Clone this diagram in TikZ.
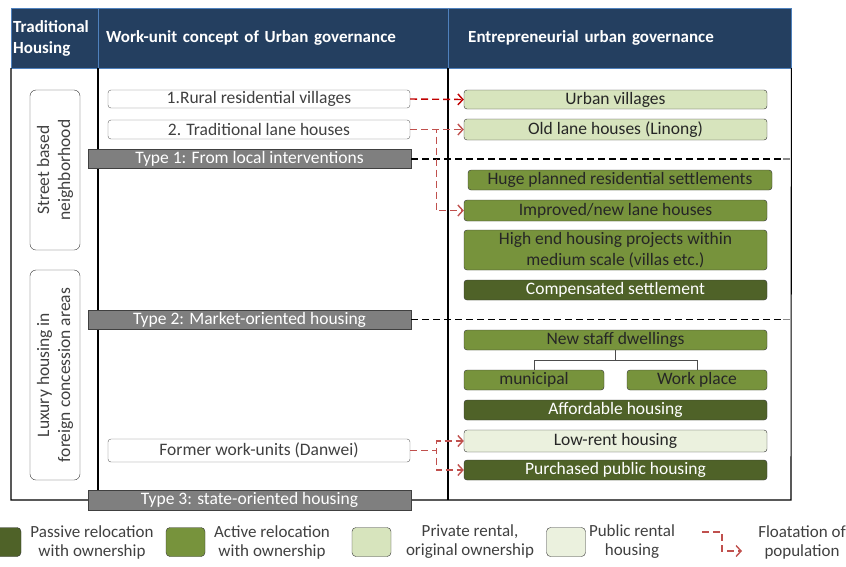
\documentclass[tikz,border=0pt]{standalone}
\usepackage{fontspec}
\setmainfont{Carlito}
\usepackage{xcolor}
\definecolor{hdnavy}{HTML}{243F60}
\definecolor{hdedge}{HTML}{4F81BD}
\definecolor{bargray}{HTML}{7F7F7F}
\definecolor{darkgr}{HTML}{4F6228}
\definecolor{midgr}{HTML}{77933C}
\definecolor{lightgr}{HTML}{D7E4BD}
\definecolor{palegr}{HTML}{EBF1DE}
\definecolor{flored}{HTML}{C0504D}
\definecolor{flostrong}{HTML}{C00000}
\usetikzlibrary{positioning,arrows.meta,calc}

\begin{document}
\begin{tikzpicture}[x=1pt, y=-1pt,
  font=\fontsize{17.5}{21}\selectfont,
  head/.style={draw=hdedge, fill=hdnavy, text=white, font=\fontsize{17}{21}\selectfont\bfseries,
               minimum height=60, align=left, anchor=west},
  side/.style={draw=black!80, rounded corners=6pt, fill=white, rotate=90, minimum height=50,
               align=center, text=black!75, inner sep=1pt},
  old/.style={draw=black!60, rounded corners=3pt, fill=white, minimum width=302, text=black!75, inner sep=0pt},
  typebar/.style={draw=black!75, fill=bargray, text=white, minimum width=323, minimum height=19, inner sep=0pt},
  newbox/.style={draw=black!80, rounded corners=3pt, minimum width=303, inner sep=0pt, align=center},
  passive/.style={newbox, fill=darkgr, text=white},
  active/.style={newbox, fill=midgr, text=black!85},
  private/.style={newbox, fill=lightgr, text=black!85},
  public/.style={newbox, fill=palegr, text=black!85},
  flo/.style={draw=flored, line width=1.4pt, dash pattern=on 7pt off 4pt,
              -{Straight Barb[length=5pt,width=11pt]}},
  sep/.style={line width=1.2pt, dash pattern=on 7pt off 4pt},
  frame/.style={line width=1.1pt},
  key/.style={draw=black!80, rounded corners=4pt, minimum width=39, minimum height=29},
  keytext/.style={text=black!75, align=center, font=\fontsize{17}{19}\selectfont},
]
  \useasboundingbox (0,0) rectangle (846,566);

  \node[head, minimum width=87, text width=83, inner xsep=2] (hdhouse) at (11,38) {Traditional\\Housing};
  \node[head, text width=334, inner xsep=8] (hdwork) at (98,38) {Work-unit concept of Urban governance};
  \node[head, text width=303, inner xsep=20] (hdentre) at (448,38) {Entrepreneurial urban governance};

  \draw[frame] (hdhouse.south west) -- (11,500) -- (791,500) -- (hdentre.south east);
  \draw[frame] (hdwork.south west) -- (98,490);
  \draw[frame] (hdentre.south west) -- (448,500);

  \node[side, minimum width=160] (street) at (55,170) {Street based\\neighborhood};
  \node[side, minimum width=210] (luxury) at (55,375) {Luxury housing in\\foreign concession areas};

  \node[old, minimum height=18] (rural) at (259,99) {1.Rural residential villages};
  \node[old, minimum height=19] (lane) at (259,129.5) {2. Traditional lane houses};
  \node[old, minimum height=23] (danwei) at (259,450.5) {Former work-units (Danwei)};

  \coordinate (end1) at (781,159);
  \coordinate (end2) at (781,319.5);
  \node[typebar] (type1) at (249.5,159) {Type 1: From local interventions};
  \node[typebar] (type2) at (249.5,319.5) {Type 2: Market-oriented housing};
  \node[typebar, minimum height=20] (type3) at (249.5,500) {Type 3: state-oriented housing};
  \draw[sep] (type1.east) -- (end1);
  \draw[sep] (type2.east) -- (end2);
  \draw[black!45, line width=1.5pt] (783,159) -- (790,159) (783,319.5) -- (790,319.5);

  \node[private, minimum height=19] (urbvil) at (615.5,99.5) {Urban villages};
  \node[private, minimum height=21] (linong) at (615.5,129.5) {Old lane houses (Linong)};
  \node[active, minimum height=20, minimum width=304] (huge) at (620,180) {Huge planned residential settlements};
  \node[active, minimum height=21] (improved) at (615.5,210.5) {Improved/new lane houses};
  \node[active, minimum height=40] (highend) at (615.5,250) {High end housing projects within\\medium scale (villas etc.)};
  \node[passive, minimum height=20] (compens) at (615.5,290) {Compensated settlement};
  \node[active, minimum height=20] (staff) at (615.5,340) {New staff dwellings};
  \node[active, minimum height=20, minimum width=140] (municipal) at (534,380) {municipal};
  \node[active, minimum height=20, minimum width=140] (workplace) at (697,380) {Work place};
  \node[passive, minimum height=20] (afford) at (615.5,410) {Affordable housing};
  \node[public, minimum height=22] (lowrent) at (615.5,441) {Low-rent housing};
  \node[passive, minimum height=20] (purchased) at (615.5,470) {Purchased public housing};

  \draw[black!70] (staff.south) -- ++(0,10) coordinate (fork) -| (municipal.north);
  \draw[black!70] (fork) -| (workplace.north);

  \draw[flo, draw=flostrong] (rural.east) -- (urbvil.west);
  \draw[flo] (lane.east) -- (linong.west);
  \draw[flo] (lane.east) -- ++(26,0) |- (improved.west);
  \draw[flo] (danwei.east) -- ++(26,0) |- (lowrent.west);
  \draw[flo] (danwei.east) -- ++(26,0) |- (purchased.west);

  \node[key, fill=darkgr] (kpassive) at (1.5,542) {};
  \node[keytext] (tpassive) at (92,542) {Passive relocation\\with ownership};
  \node[key, fill=midgr] (kactive) at (185.5,542) {};
  \node[keytext] (tactive) at (272,542) {Active relocation\\with ownership};
  \node[key, fill=lightgr] (kprivate) at (371.5,542) {};
  \node[keytext] (tprivate) at (470,542) {Private rental,\\original ownership};
  \node[key, fill=palegr] (kpublic) at (566,542) {};
  \node[keytext] (tpublic) at (632,542) {Public rental\\housing};
  \coordinate (kflo) at (702,532);
  \coordinate (kfloend) at (742,551);
  \draw[flo] (kflo) -- ++(20,0) |- (kfloend);
  \node[keytext] (tflo) at (802,542) {Floatation of\\population};
\end{tikzpicture}
\end{document}
